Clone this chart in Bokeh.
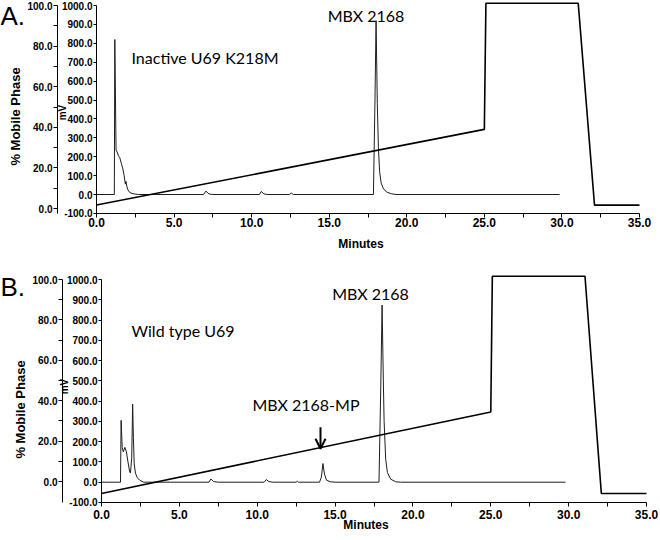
import math
from bokeh.plotting import figure
from bokeh.models import (Range1d, LinearAxis, FixedTicker, PrintfTickFormatter,
                          Label, Arrow, OpenHead)
from bokeh.layouts import column
from bokeh.embed import file_html
from bokeh.resources import INLINE

# ---------------- data ----------------
x_ticks = [0, 5, 10, 15, 20, 25, 30, 35]
x_minor = [2.5, 7.5, 12.5, 17.5, 22.5, 27.5, 32.5]
mv_ticks = [-100, 0, 100, 200, 300, 400, 500, 600, 700, 800, 900, 1000]
pct_ticks = [0, 20, 40, 60, 80, 100]
pct_minor = [10, 30, 50, 70, 90]

# gradient program (% of mobile phase)
grad_time = [0, 25.0, 25.1, 31.05, 32.1, 35.0]
grad_pct = [4, 40, 100, 100, 4, 4]

# Panel A: Inactive U69 K218M chromatogram (minutes, mV)
time_a = [0, 1.15, 1.18, 1.26, 1.33, 1.42, 1.5, 1.6, 1.7, 1.78, 1.86, 1.9, 1.95, 2.02, 2.15, 2.35, 2.7,
          6.9, 7.05, 7.25, 7.5,
          10.5, 10.62, 10.8, 11.0,
          12.45, 12.55, 12.7,
          17.85, 17.95, 18.02, 18.1, 18.17, 18.25, 18.35, 18.5, 18.7, 19.0, 19.3,
          29.85]
mv_a = [0, 0, 820, 235, 225, 205, 195, 165, 135, 100, 55, 70, 45, 25, 10, 4, 0,
        0, 18, 3, 0,
        0, 16, 3, 0,
        0, 8, 0,
        0, 500, 920, 480, 250, 120, 60, 30, 13, 4, 0,
        0]

# Panel B: Wild type U69 chromatogram (minutes, mV)
time_b = [0, 1.22, 1.26, 1.33, 1.4, 1.5, 1.6, 1.7, 1.8, 1.86, 1.94, 2.0, 2.05, 2.1, 2.18, 2.3, 2.45, 2.7,
          6.9, 7.03, 7.2, 7.5,
          10.45, 10.58, 10.75, 11.0,
          12.5, 12.57, 12.65,
          14.0, 14.12, 14.22, 14.32, 14.45, 14.7, 15.0,
          17.82, 17.93, 18.02, 18.1, 18.15, 18.25, 18.36, 18.57, 18.9, 19.2,
          29.8]
mv_b = [0, 0, 305, 170, 150, 172, 150, 100, 55, 45, 120, 385, 220, 90, 45, 22, 10, 0,
        0, 16, 3, 0,
        0, 13, 3, 0,
        0, 5, 0,
        0, 25, 92, 40, 10, 2, 0,
        0, 450, 874, 500, 300, 113, 48, 15, 2, 0,
        0]

TICK_FONT = "Liberation Sans"
NOTE_FONT = "Lato"
W = 660


def lin(v0, p0, v1, p1):
    """pixel -> value conversion from two calibration points"""
    k = (p1 - p0) / (v1 - v0)
    return lambda px: v0 + (px - p0) / k


def style_axis(ax, tick_size):
    ax.axis_line_color = "black"
    ax.axis_line_width = 1
    ax.major_tick_line_color = "black"
    ax.minor_tick_line_color = "black"
    ax.major_label_text_font = TICK_FONT
    ax.major_label_text_font_style = "bold"
    ax.major_label_text_font_size = tick_size
    ax.major_label_text_color = "black"
    ax.major_tick_in = 0
    ax.minor_tick_in = 0


def make_panel(H, fx, fmv, fpct, fgrad, times, mvs, pct_axis_px, x_std):
    p = figure(width=W, height=H, output_backend="svg", toolbar_location=None,
               x_range=Range1d(fx(0), fx(W)), y_range=Range1d(fmv(H), fmv(0)),
               x_axis_type=None, y_axis_type=None,
               min_border_left=0, min_border_right=0,
               min_border_top=0, min_border_bottom=0)
    p.outline_line_color = None
    p.background_fill_color = "white"
    p.border_fill_color = "white"
    p.extra_y_ranges = {"pct": Range1d(fpct(H), fpct(0)),
                        "grad": Range1d(fgrad(H), fgrad(0))}
    x_axis_mv = -100

    mv_axis = LinearAxis(ticker=FixedTicker(ticks=mv_ticks),
                         formatter=PrintfTickFormatter(format="%.1f"),
                         fixed_location=0, bounds=(-100, 1000))
    style_axis(mv_axis, "10px")
    mv_axis.major_tick_out = 3
    mv_axis.minor_tick_out = 0
    mv_axis.major_label_standoff = 1
    p.add_layout(mv_axis, "left")

    # pixel row of the x axis line (mV = -100) -> % value for the % axis bottom bound
    rows = [r / 4 for r in range(0, 4 * H)]
    axis_row = min(rows, key=lambda r: abs(fmv(r) - x_axis_mv))
    pct_axis = LinearAxis(y_range_name="pct",
                          ticker=FixedTicker(ticks=pct_ticks, minor_ticks=pct_minor),
                          formatter=PrintfTickFormatter(format="%.1f"),
                          fixed_location=fx(pct_axis_px),
                          bounds=(fpct(axis_row), 100))
    style_axis(pct_axis, "10px")
    pct_axis.major_tick_out = 4
    pct_axis.minor_tick_out = 4
    pct_axis.major_label_standoff = 1
    p.add_layout(pct_axis, "left")

    xa = LinearAxis(ticker=FixedTicker(ticks=x_ticks, minor_ticks=x_minor),
                    formatter=PrintfTickFormatter(format="%.1f"),
                    fixed_location=x_axis_mv, bounds=(0, 35))
    style_axis(xa, "12px")
    xa.major_tick_out = 4
    xa.minor_tick_out = 4
    xa.major_label_standoff = x_std
    p.add_layout(xa, "below")

    p.line(times, mvs, line_color="#1e1e1e", line_width=1)
    p.line(grad_time, grad_pct, y_range_name="grad", line_color="black", line_width=1.6)
    return p


def note(p, fx, fy, text, px, py, align="left", size="16px", font=NOTE_FONT,
         bold=False, angle=0.0):
    p.add_layout(Label(x=fx(px), y=fy(py), text=text, text_font=font,
                       text_font_size=size, text_align=align, text_baseline="middle",
                       text_color="black", angle=angle,
                       text_font_style="bold" if bold else "normal"))


# ---- Panel A (canvas rows 0..270) ----
HA = 270
ax_t = lin(0, 96, 35, 639)
ay_mv = lin(0, 194, 1000, 5)
ay_pct = lin(0, 208, 100, 5)
ay_grad = lin(0, 213, 100, 2.7)
pa = make_panel(HA, ax_t, ay_mv, ay_pct, ay_grad, time_a, mv_a, 57, 1)

note(pa, ax_t, ay_mv, "A.", 0, 15, size="26px", font=TICK_FONT)
note(pa, ax_t, ay_mv, "% Mobile Phase", 15, 116, align="center", size="13px",
     font=TICK_FONT, bold=True, angle=math.pi / 2)
note(pa, ax_t, ay_mv, "mV", 62, 112, align="center", size="10px",
     font=TICK_FONT, bold=True, angle=math.pi / 2)
note(pa, ax_t, ay_mv, "Minutes", 360.5, 243, align="center", size="12px",
     font=TICK_FONT, bold=True)
note(pa, ax_t, ay_mv, "Inactive U69 K218M", 131, 57)
note(pa, ax_t, ay_mv, "MBX 2168", 365.5, 15, align="center")

# ---- Panel B (canvas rows 270..532, local rows 0..262) ----
HB = 262
bx_t = lin(0, 101, 35, 646)
by_mv = lin(0, 211.7, 1000, 9)
by_pct = lin(0, 211, 100, 9)
by_grad = lin(0, 232, 100, 5.7)
pb = make_panel(HB, bx_t, by_mv, by_pct, by_grad, time_b, mv_b, 62, 4)

note(pb, bx_t, by_mv, "B.", 0, 16, size="26px", font=TICK_FONT)
note(pb, bx_t, by_mv, "% Mobile Phase", 20, 139, align="center", size="13px",
     font=TICK_FONT, bold=True, angle=math.pi / 2)
note(pb, bx_t, by_mv, "mV", 64, 116, align="center", size="10px",
     font=TICK_FONT, bold=True, angle=math.pi / 2)
note(pb, bx_t, by_mv, "Minutes", 365.5, 254, align="center", size="12px",
     font=TICK_FONT, bold=True)
note(pb, bx_t, by_mv, "Wild type U69", 131, 60)
note(pb, bx_t, by_mv, "MBX 2168", 370, 23, align="center")
note(pb, bx_t, by_mv, "MBX 2168-MP", 305.5, 133.5, align="center")
pb.add_layout(Arrow(end=OpenHead(size=10, line_width=2, line_color="black"),
                    x_start=bx_t(320), y_start=by_mv(156.7),
                    x_end=bx_t(320), y_end=by_mv(178.3),
                    line_width=2, line_color="black"))

layout = column(pa, pb, spacing=0)
open("out.html", "w").write(file_html(layout, INLINE))
